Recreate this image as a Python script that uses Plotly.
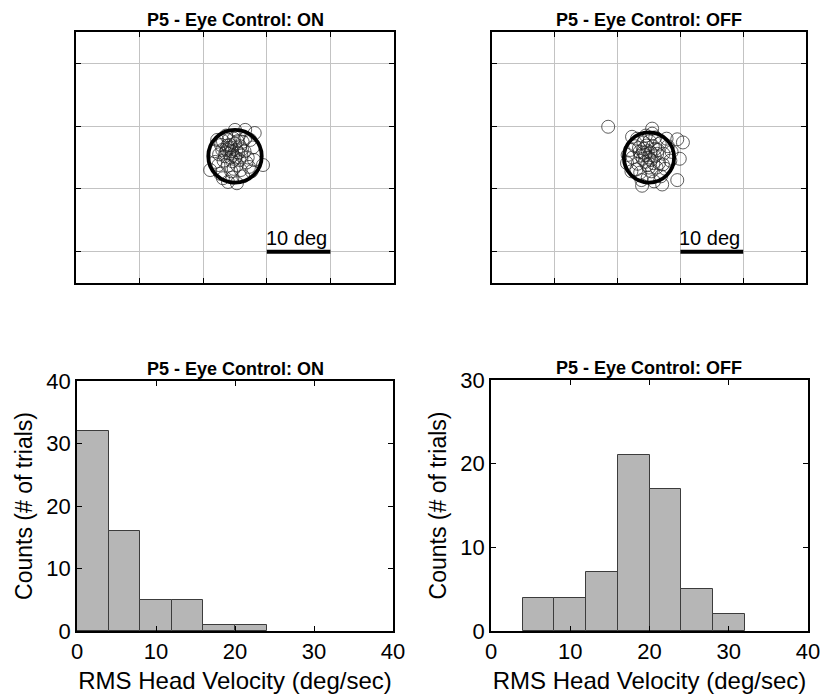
import numpy as np
import plotly.graph_objects as go

# ---------------- data ----------------
title_on = "P5 - Eye Control: ON"
title_off = "P5 - Eye Control: OFF"

# gaze positions (deg) per trial, Eye Control ON
on_x = [-1.0, -0.5, -1.5, -0.8, 0.2, -1.2, -0.3, 0.5, -2.0, -1.6,
        0.0, -0.7, 0.8, -2.2, -1.0, 0.4, 1.0, -0.4, -1.8, 1.5,
        1.2, -2.5, 0.3, -1.1, 2.0, -0.2, 1.8, -2.6, 0.9, -0.6,
        1.6, 0.0, 1.6, 3.1, 4.4, -3.9, -3.1, -1.1, 0.3, -1.9,
        2.6, 2.8, -2.8, -3.2, 1.3, -0.4, 2.4, 3.0, -2.3, 0.6,
        -1.4, -0.9, 0.1, -1.3, -0.6, 0.7, -1.9, 1.1, -0.2, 2.2]
on_y = [1.5, 1.0, 0.8, 2.0, 1.2, 1.9, 0.4, 0.8, 1.2, 0.2,
        2.2, 0.0, 1.8, 2.0, 2.8, 2.6, 0.3, -0.6, -0.5, 1.0,
        2.5, 0.5, -1.2, -1.3, 0.0, 3.0, -0.8, -1.2, -2.0, -2.2,
        3.0, 4.4, 4.4, 3.9, -1.2, -2.0, -0.7, -3.9, -4.1, -3.3,
        -2.2, 1.6, 2.8, 1.0, -3.0, -3.2, 2.8, -0.4, -2.6, 3.5,
        3.5, 0.6, 0.0, 1.2, 1.6, -0.4, 2.6, 1.3, -1.8, -1.5]

# gaze positions (deg) per trial, Eye Control OFF
off_x = [-6.5, 0.5, 4.5, 5.4, 4.9, 4.5, -1.1, 2.1, -3.4, -3.5,
         -2.7, -0.6, -0.2, -1.0, 0.3, -0.8, 0.6, -1.5, 0.9, -0.3,
         1.4, -1.8, 0.1, -0.9, 1.6, -2.2, 2.3, 0.4, -1.4, 2.6,
         1.0, -2.8, 3.0, 0.5, -0.5, 3.4, -2.6, 1.9, -0.2, 2.8,
         -1.2, 3.6, -3.0, 0.8, -1.9, 1.2, -0.6, 0.2, -1.3, 0.7,
         -0.4, 1.7, -2.0, 2.2, 0.0, -0.9, 1.3, 0.0, -1.6, 1.0]
off_y = [4.9, 4.6, 2.9, 2.4, -0.2, -3.6, -4.5, -4.3, 0.4, -0.9,
         3.3, 0.4, 1.0, -0.2, -0.4, 1.4, 1.8, 0.9, 0.2, -1.2,
         1.2, -1.0, 2.6, 2.4, -0.9, 1.8, 0.6, -2.2, -2.4, -1.8,
         3.2, -2.2, 1.8, 3.8, 3.5, -0.5, 0.0, -3.0, -3.2, 3.0,
         -3.6, 0.9, 1.2, -3.8, 3.0, -1.6, -0.7, 0.8, 0.3, -0.9,
         1.9, 2.2, -1.9, -1.1, 0.0, 0.8, 0.6, -1.6, 1.5, 1.4]

# dispersion circle (center, radius in deg)
on_center = (0.0, 0.2)
on_radius = 4.2
off_center = (0.0, 0.0)
off_radius = 4.0

# scale bar (deg)
scale_start = 5
scale_len = 10
scale_y = -15
scale_label = "10 deg"

# histograms of RMS head velocity
bin_edges = [0, 4, 8, 12, 16, 20, 24, 28, 32]
counts_on = [32, 16, 5, 5, 1, 1, 0, 0]
counts_off = [0, 4, 4, 7, 21, 17, 5, 2]

hist_ticks = [0, 10, 20, 30, 40]
ylim_on = 40
ylim_off = 30
ytick_on = [0, 10, 20, 30, 40]
ytick_off = [0, 10, 20, 30]
xlabel = "RMS Head Velocity (deg/sec)"
ylabel = "Counts (# of trials)"

# ---------------- figure ----------------
W, H = 821, 700
FONT = "Liberation Sans, Arial, Helvetica, sans-serif"

def dom_x(a, b):
    return [a / W, b / W]

def dom_y(top, bottom):
    return [1 - bottom / H, 1 - top / H]

fig = go.Figure()

circ_marker = dict(symbol="circle-open", size=13, color="rgba(30,30,30,0.8)",
                   line=dict(width=0.9, color="rgba(30,30,30,0.8)"))

fig.add_trace(go.Scatter(x=on_x, y=on_y, mode="markers", marker=circ_marker,
                         xaxis="x", yaxis="y", showlegend=False))
fig.add_trace(go.Scatter(x=off_x, y=off_y, mode="markers", marker=circ_marker,
                         xaxis="x2", yaxis="y2", showlegend=False))

def bars(counts):
    cs, ws, ys = [], [], []
    for b0, b1, c in zip(bin_edges[:-1], bin_edges[1:], counts):
        if c > 0:
            cs.append((b0 + b1) / 2)
            ws.append(b1 - b0)
            ys.append(c)
    return cs, ws, ys

bar_style = dict(color="rgb(182,182,182)", line=dict(color="rgb(60,60,60)", width=1))

for counts, xa, ya in [(counts_on, "x3", "y3"), (counts_off, "x4", "y4")]:
    cs, ws, ys = bars(counts)
    fig.add_trace(go.Bar(x=cs, y=ys, width=ws, marker=bar_style,
                         xaxis=xa, yaxis=ya, showlegend=False))

# dispersion circles and scale bars
for (cx, cy), r, xr, yr in [(on_center, on_radius, "x", "y"), (off_center, off_radius, "x2", "y2")]:
    fig.add_shape(type="circle", xref=xr, yref=yr, x0=cx - r, x1=cx + r, y0=cy - r, y1=cy + r,
                  line=dict(color="black", width=3.8), layer="above")
    fig.add_shape(type="line", xref=xr, yref=yr, x0=scale_start, x1=scale_start + scale_len,
                  y0=scale_y, y1=scale_y, line=dict(color="black", width=4), layer="above")
    fig.add_annotation(xref=xr, yref=yr, x=scale_start, y=scale_y, text=scale_label,
                       showarrow=False, xanchor="left", yanchor="bottom", yshift=1, xshift=-3,
                       font=dict(size=20, color="black", family=FONT))

frame = dict(showline=True, linecolor="black", linewidth=1.5, mirror="ticks",
             ticks="inside", ticklen=5, tickcolor="black", tickwidth=1, zeroline=False,
             automargin=False)

scatter_ax = dict(frame, showgrid=True, gridcolor="rgb(195,195,195)", gridwidth=1,
                  showticklabels=False, dtick=10, tick0=5)

hist_ax_font = dict(size=22, color="black", family=FONT)
xlab_font = dict(size=24, color="black", family=FONT)
ylab_font = dict(size=23, color="black", family=FONT)

layout = dict(
    width=W, height=H, margin=dict(l=0, r=0, t=0, b=0),
    paper_bgcolor="white", plot_bgcolor="white",
    font=dict(family=FONT, color="black"),
    bargap=0,
    xaxis=dict(scatter_ax, domain=dom_x(76, 394), range=[-25, 25], anchor="y"),
    yaxis=dict(scatter_ax, domain=dom_y(32, 283), range=[-20, 20], anchor="x"),
    xaxis2=dict(scatter_ax, domain=dom_x(492, 806), range=[-25, 25], anchor="y2"),
    yaxis2=dict(scatter_ax, domain=dom_y(32, 283), range=[-20, 20], anchor="x2"),
    xaxis3=dict(frame, domain=dom_x(77, 393), range=[0, 40], tickvals=hist_ticks, anchor="y3",
                showgrid=False, tickfont=hist_ax_font,
                title=dict(text=xlabel, font=xlab_font, standoff=9)),
    yaxis3=dict(frame, domain=dom_y(381, 631), range=[0, ylim_on], tickvals=ytick_on, anchor="x3",
                showgrid=False, tickfont=hist_ax_font,
                title=dict(text=ylabel, font=ylab_font, standoff=7)),
    xaxis4=dict(frame, domain=dom_x(491, 808), range=[0, 40], tickvals=hist_ticks, anchor="y4",
                showgrid=False, tickfont=hist_ax_font,
                title=dict(text=xlabel, font=xlab_font, standoff=9)),
    yaxis4=dict(frame, domain=dom_y(380, 631), range=[0, ylim_off], tickvals=ytick_off, anchor="x4",
                showgrid=False, tickfont=hist_ax_font,
                title=dict(text=ylabel, font=ylab_font, standoff=7)),
)
fig.update_layout(**layout)

# panel titles
for text, xc, ytop in [(title_on, 235, 32), (title_off, 649, 32),
                       (title_on, 235, 381), (title_off, 649, 380)]:
    fig.add_annotation(xref="paper", yref="paper", x=xc / W, y=1 - ytop / H,
                       text="<b>" + text + "</b>", showarrow=False,
                       xanchor="center", yanchor="bottom", yshift=0,
                       font=dict(size=18, color="black", family=FONT))

fig.write_html("out.html", config={"displayModeBar": False},
               post_script="document.body.style.margin='0';document.body.style.padding='0';")
